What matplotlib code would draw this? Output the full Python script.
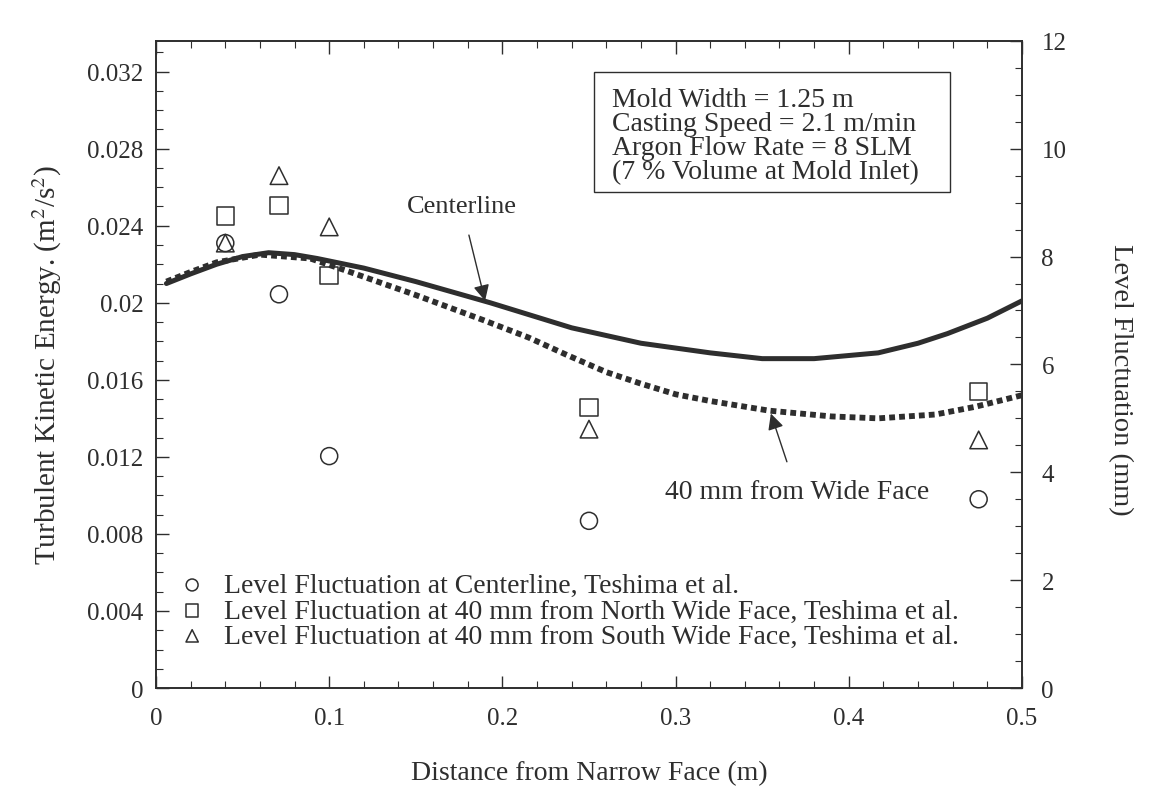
import matplotlib
matplotlib.use('Agg')
import matplotlib.pyplot as plt
from matplotlib.ticker import MultipleLocator, FixedLocator
from matplotlib.patches import Rectangle

plt.rcParams['font.family'] = ['Liberation Serif', 'DejaVu Serif']
plt.rcParams['mathtext.fontset'] = 'stix'

# Computed turbulent kinetic energy (left axis, m^2/s^2)
center_x = [0.006, 0.02, 0.035, 0.05, 0.065, 0.08, 0.093, 0.12, 0.15, 0.193,
            0.24, 0.28, 0.32, 0.35, 0.38, 0.417, 0.44, 0.457, 0.48, 0.5]
center_k = [0.0210, 0.0215, 0.0220, 0.0224, 0.0226, 0.0225, 0.0223, 0.0218, 0.0211, 0.0200,
            0.0187, 0.0179, 0.0174, 0.0171, 0.0171, 0.0174, 0.0179, 0.0184, 0.0192, 0.0201]
wide_x = [0.006, 0.02, 0.035, 0.06, 0.089, 0.112, 0.15, 0.189, 0.215, 0.237, 0.26,
          0.28, 0.30, 0.32, 0.354, 0.39, 0.417, 0.45, 0.473, 0.5]
wide_k = [0.0211, 0.0216, 0.0221, 0.0225, 0.0223, 0.0216, 0.0204, 0.0191, 0.0182, 0.0173, 0.0164,
          0.0158, 0.01525, 0.0149, 0.0144, 0.0141, 0.0140, 0.0142, 0.0146, 0.0152]

# Measured level fluctuation (right axis, mm)
meas_x = [0.04, 0.071, 0.1, 0.25, 0.475]
lf_center = [8.25, 7.3, 4.3, 3.1, 3.5]
lf_north = [8.75, 8.95, 7.65, 5.2, 5.5]
lf_south = [8.25, 9.5, 8.55, 4.8, 4.6]

x_ticks = [0, 0.1, 0.2, 0.3, 0.4, 0.5]
x_labels = ['0', '0.1', '0.2', '0.3', '0.4', '0.5']
k_ticks = [0, 0.004, 0.008, 0.012, 0.016, 0.02, 0.024, 0.028, 0.032]
k_labels = ['0', '0.004', '0.008', '0.012', '0.016', '0.02', '0.024', '0.028', '0.032']
lf_ticks = [0, 2, 4, 6, 8, 10, 12]

legend_labels = ['Level Fluctuation at Centerline, Teshima et al.',
                 'Level Fluctuation at 40 mm from North Wide Face, Teshima et al.',
                 'Level Fluctuation at 40 mm from South Wide Face, Teshima et al.']

ink = '#2e2e2e'

fig = plt.figure(figsize=(11.6, 8.04), dpi=100)
ax = fig.add_axes([0.1345, 0.143, 0.7465, 0.805])
ax2 = ax.twinx()

ax.plot(center_x, center_k, color=ink, lw=3.6, solid_capstyle='round', solid_joinstyle='round')
ax.plot(wide_x, wide_k, color=ink, lw=4.2, linestyle=(0, (1.0, 0.7)),
        dash_capstyle='butt')

ax.set_xlim(0, 0.5)
ax.set_ylim(0, 0.0336)
ax2.set_ylim(0, 12)

ax.xaxis.set_major_locator(FixedLocator(x_ticks))
ax.xaxis.set_minor_locator(MultipleLocator(0.02))
ax.yaxis.set_major_locator(FixedLocator(k_ticks))
ax.yaxis.set_minor_locator(MultipleLocator(0.001))
ax2.yaxis.set_major_locator(FixedLocator(lf_ticks))
ax2.yaxis.set_minor_locator(MultipleLocator(0.5))
ax.set_xticklabels(x_labels)
ax.set_yticklabels(k_labels)

ax.tick_params(which='both', direction='in', top=True, labelsize=18, colors=ink)
ax.tick_params(which='major', length=9, width=1)
ax.tick_params(which='minor', length=5, width=0.8)
ax.tick_params(axis='x', pad=14)
ax.tick_params(axis='y', pad=9)
ax2.tick_params(which='both', direction='in', labelsize=18, colors=ink, pad=14)
ax2.tick_params(which='major', length=9, width=1)
ax2.tick_params(which='minor', length=5, width=0.8)

for s in list(ax.spines.values()) + list(ax2.spines.values()):
    s.set_linewidth(1.2)
    s.set_color(ink)

ax.set_xlabel('Distance from Narrow Face (m)', fontsize=20, color=ink, labelpad=22)
ax.set_ylabel('Turbulent Kinetic Energy. (m$^2$/s$^2$)', fontsize=21, color=ink,
              labelpad=17)
ax2.set_ylabel('Level Fluctuation (mm)', fontsize=20.5, color=ink, rotation=270,
               labelpad=48)
ax2.yaxis.label.set_y(0.478)

h1 = ax2.scatter(meas_x, lf_center, marker='o', s=150, facecolors='none',
                 edgecolors=ink, linewidths=1.1)
h2 = ax2.scatter(meas_x, lf_north, marker='s', s=160, facecolors='none',
                 edgecolors=ink, linewidths=1.1)
h3 = ax2.scatter(meas_x, lf_south, marker='^', s=160, facecolors='none',
                 edgecolors=ink, linewidths=1.1)

leg = ax2.legend([h1, h2, h3], legend_labels, loc='center left',
                 bbox_to_anchor=(0.0, 0.004 / 0.0336), frameon=False, fontsize=20,
                 handlelength=1.4, handletextpad=0.45, labelspacing=0.0,
                 markerscale=0.7, borderaxespad=0.2)
for t in leg.get_texts():
    t.set_color(ink)

ax.annotate('Centerline', xy=(0.19, 0.0201), xytext=(0.1766, 0.0250),
            fontsize=19, color=ink, ha='center', va='center',
            arrowprops=dict(arrowstyle='-|>', color=ink, lw=1.0,
                            shrinkA=11, shrinkB=0, mutation_scale=24))
ax.annotate('40 mm from Wide Face', xy=(0.355, 0.01425), xytext=(0.370, 0.0102),
            fontsize=20, color=ink, ha='center', va='center',
            arrowprops=dict(arrowstyle='-|>', color=ink, lw=1.0,
                            shrinkA=11, shrinkB=0, mutation_scale=24))

ax.add_patch(Rectangle((0.5058, 0.766), 0.4111, 0.186, transform=ax.transAxes,
                       fill=False, ec=ink, lw=1.0))
ax.text(0.5266, 0.853, 'Mold Width = 1.25 m\nCasting Speed = 2.1 m/min\n'
        'Argon Flow Rate = 8 SLM\n(7 % Volume at Mold Inlet)',
        transform=ax.transAxes, fontsize=20, color=ink, ha='left', va='center',
        linespacing=0.95)

fig.savefig('out.png', dpi=100)
